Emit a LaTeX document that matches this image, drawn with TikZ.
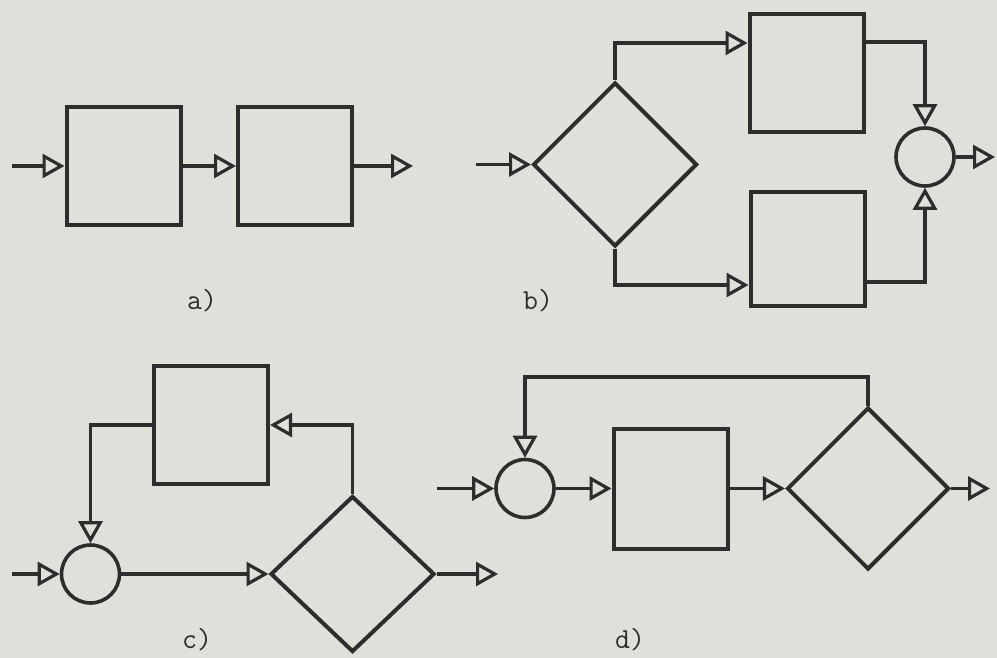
\documentclass[tikz,border=0pt]{standalone}
\usetikzlibrary{arrows.meta,shapes.geometric}
\definecolor{paper}{RGB}{224,224,219}
\definecolor{ink}{RGB}{45,45,45}
\tikzset{
  blk/.style={rectangle,draw=ink,line width=4pt,inner sep=0pt,minimum width=114pt,minimum height=118pt},
  circ/.style={circle,draw=ink,line width=3.6pt,inner sep=0pt,minimum size=58pt},
  dia/.style={diamond,draw=ink,line width=4pt,inner sep=0pt,aspect=1,minimum width=162pt,minimum height=162pt},
  arr/.style={draw=ink,line width=3.2pt,-{Triangle[open,length=22pt,width=24pt]}},
  lbl/.style={font=\ttfamily\fontsize{29}{33}\selectfont,text=ink,inner sep=0pt}
}
\begin{document}
\begin{tikzpicture}[x=1pt,y=-1pt]
\fill[paper] (0,0) rectangle (997,658);
\useasboundingbox (0,0) rectangle (997,658);
% ---------- a)
\coordinate (ain) at (12,166);
\node[blk] (a1) at (123.5,166) {};
\node[blk] (a2) at (295,166) {};
\coordinate (aout) at (413,166);
\draw[arr] (ain) -- (a1);
\draw[arr] (a1) -- (a2);
\draw[arr] (a2) -- (aout);
\node[lbl] (alab) at (202,301) {a)};
% ---------- b)
\coordinate (bin) at (476,164.5);
\node[dia,minimum width=164pt,minimum height=164pt] (bd) at (615,164.5) {};
\node[blk] (bt) at (806.5,73) {};
\node[blk,minimum height=114pt] (bb) at (807.5,249) {};
\node[circ] (bc) at (925,157) {};
\coordinate (bout) at (995,157);
\draw[arr] (bin) -- (bd.west);
\draw[arr] (bd.north) |- (bt.west |- 0,43);
\draw[arr] (bt.east |- 0,42) -| (bc.north);
\draw[arr] (bd.south) |- (bb.west |- 0,285);
\draw[arr] (bb.east |- 0,282) -| (bc.south);
\draw[arr] (bc) -- (bout);
\node[lbl] (blab) at (538,301) {b)};
% ---------- c)
\coordinate (cin) at (12,574);
\node[circ] (cc) at (90.5,574) {};
\node[dia,minimum width=164pt,minimum height=156pt] (cd) at (352.5,574) {};
\node[blk] (cb) at (211,425) {};
\coordinate (cout) at (498,574);
\draw[arr] (cin) -- (cc);
\draw[arr] (cc) -- (cd);
\draw[arr] (cd) -- (cout);
\draw[arr] (cd.north) |- (cb.east);
\draw[arr] (cb.west) -| (cc.north);
\node[lbl] (clab) at (197,640) {c)};
% ---------- d)
\coordinate (din) at (437,488.5);
\node[circ] (dc) at (525,488.5) {};
\node[blk,minimum height=120pt] (db) at (670.5,488.5) {};
\node[dia] (dd) at (868,488.5) {};
\coordinate (dout) at (990,488.5);
\draw[arr] (din) -- (dc);
\draw[arr] (dc) -- (db);
\draw[arr] (db) -- (dd);
\draw[arr] (dd) -- (dout);
\draw[arr] (dd.north) |- (dc.north |- 0,377) -- (dc.north);
\node[lbl] (dlab) at (630,640) {d)};
\end{tikzpicture}
\end{document}
